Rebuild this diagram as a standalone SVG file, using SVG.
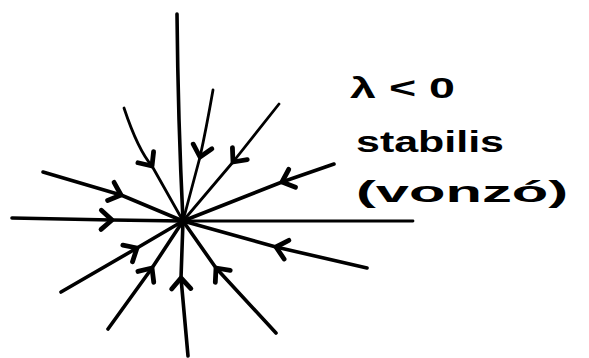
<svg xmlns="http://www.w3.org/2000/svg" width="589" height="358" viewBox="0 0 589 358">
<style>
.tr{fill:none;stroke:#000;stroke-width:3.6;stroke-linecap:round;stroke-linejoin:round}
.thin{stroke-width:2.8}
.lbl{font-family:"Liberation Sans","DejaVu Sans",sans-serif;font-size:30px;font-weight:bold;fill:#000}
</style>
<defs>
<marker id="chev" markerUnits="userSpaceOnUse" markerWidth="24" markerHeight="24" refX="0" refY="0" viewBox="-12 -10 14 20" orient="auto" overflow="visible">
<path d="M-9,-8 L0,0 L-9,8" fill="none" stroke="#000" stroke-width="4" stroke-linecap="round" stroke-linejoin="round"/>
</marker>
</defs>
<rect width="589" height="358" fill="#fff"/>
<g id="trajectories">
<path class="tr" d="M177,14 Q178,120 183,221"/>
<path class="tr thin" d="M183,221 L413,221"/>
<path class="tr" d="M12,218 L112,220 L183,221" marker-mid="url(#chev)"/>
<path class="tr" d="M188,356 Q182,290 181,278 L183,221" marker-mid="url(#chev)"/>
<path class="tr thin" d="M124,108 Q138,150 152,166 L183,221" marker-mid="url(#chev)"/>
<path class="tr" d="M43,172 L121,195 L183,221" marker-mid="url(#chev)"/>
<path class="tr thin" d="M213,90 Q206,130 200,157 L183,221" marker-mid="url(#chev)"/>
<path class="tr thin" d="M279,104 L233,162 L183,221" marker-mid="url(#chev)"/>
<path class="tr" d="M334,164 L282,182 L183,221" marker-mid="url(#chev)"/>
<path class="tr" d="M367,268 L276,247 L183,221" marker-mid="url(#chev)"/>
<path class="tr" d="M276,333 L216,268 L183,221" marker-mid="url(#chev)"/>
<path class="tr" d="M108,329 L152,268 L183,221" marker-mid="url(#chev)"/>
<path class="tr" d="M61,292 L137,248 L183,221" marker-mid="url(#chev)"/>
<circle cx="183" cy="221" r="4.5" fill="#000"/>
</g>
<g id="label">
<text class="lbl" x="350" y="98" textLength="105" lengthAdjust="spacingAndGlyphs">λ &lt; 0</text>
<text class="lbl" x="356" y="152" textLength="148" lengthAdjust="spacingAndGlyphs">stabilis</text>
<text class="lbl" x="356" y="202" textLength="212" lengthAdjust="spacingAndGlyphs">(vonzó)</text>
</g>
</svg>
